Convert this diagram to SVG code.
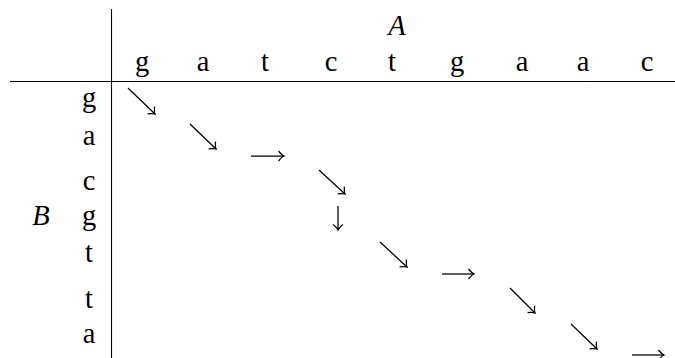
<svg xmlns="http://www.w3.org/2000/svg" width="675" height="358" viewBox="0 0 675 358">
<style>
text{font-family:"Liberation Serif","DejaVu Serif",serif;font-size:28.5px;fill:#000;text-anchor:middle}
.it{font-style:italic}
.rule{stroke:#000;stroke-width:1.1;fill:none}
.arr{stroke:#000;stroke-width:1.25;fill:none;marker-end:url(#hd)}
</style>
<defs>
<marker id="hd" markerUnits="userSpaceOnUse" markerWidth="14" markerHeight="14" refX="0" refY="0" viewBox="-7 -7 14 14" orient="auto" overflow="visible">
<path d="M -5.5 -5 Q -2 -0.8 0 0 Q -2 0.8 -5.5 5" fill="none" stroke="#000" stroke-width="1.25"/>
</marker>
</defs>
<g id="rules">
<line class="rule" x1="111.5" y1="9" x2="111.5" y2="358"/>
<line class="rule" x1="10" y1="81.5" x2="675" y2="81.5"/>
</g>
<g id="labelA"><text class="it" x="397" y="34.5">A</text></g>
<g id="labelB"><text class="it" x="41" y="225">B</text></g>
<g id="colsA">
<text x="142" y="71">g</text>
<text x="203" y="71">a</text>
<text x="265" y="71">t</text>
<text x="331" y="71">c</text>
<text x="392" y="71">t</text>
<text x="457" y="71">g</text>
<text x="522" y="71">a</text>
<text x="583" y="71">a</text>
<text x="647" y="71">c</text>
</g>
<g id="rowsB">
<text x="89" y="107">g</text>
<text x="89" y="145">a</text>
<text x="89" y="190">c</text>
<text x="89" y="225">g</text>
<text x="89" y="262">t</text>
<text x="89" y="308">t</text>
<text x="89" y="343">a</text>
</g>
<g id="connectors">
<line class="arr" x1="128" y1="88" x2="155" y2="114"/>
<line class="arr" x1="190" y1="124" x2="216" y2="149"/>
<line class="arr" x1="251" y1="156" x2="284" y2="156"/>
<line class="arr" x1="319" y1="170" x2="345" y2="194"/>
<line class="arr" x1="338" y1="206" x2="338" y2="230"/>
<line class="arr" x1="380" y1="242" x2="407" y2="267"/>
<line class="arr" x1="442" y1="274" x2="474" y2="274"/>
<line class="arr" x1="510" y1="288" x2="535" y2="313"/>
<line class="arr" x1="571" y1="324" x2="597" y2="349"/>
<line class="arr" x1="632" y1="355" x2="664" y2="355"/>
</g>
</svg>
